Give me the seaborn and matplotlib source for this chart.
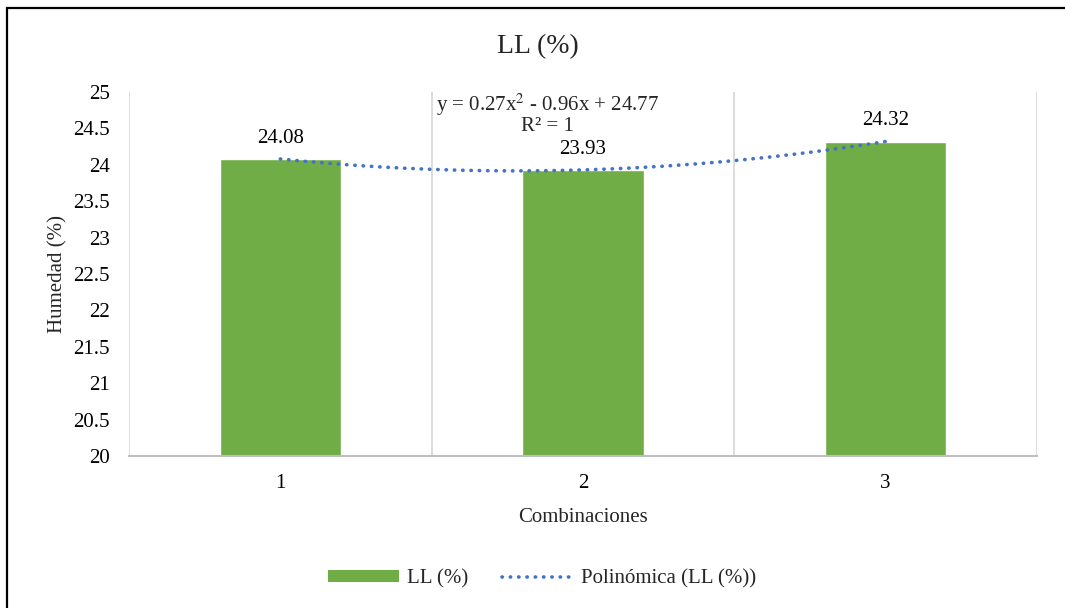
import numpy as np
import pandas as pd
import matplotlib
matplotlib.use("Agg")
import matplotlib.pyplot as plt
from matplotlib.lines import Line2D
from matplotlib.patches import Patch, Rectangle
import seaborn as sns

# ── Data ──────────────────────────────────────────────────────────────────────
combinaciones = ["1", "2", "3"]
ll_values = [24.08, 23.93, 24.32]
y_ticks = [20, 20.5, 21, 21.5, 22, 22.5, 23, 23.5, 24, 24.5, 25]

GREEN = "#70AD47"
BLUE = "#4472C4"
GRID = "#D9D9D9"

sns.set_style("white")
plt.rcParams["font.family"] = ["Liberation Serif", "DejaVu Serif"]

df = pd.DataFrame({"Combinaciones": combinaciones, "LL": ll_values})

fig = plt.figure(figsize=(10.65, 6.08), dpi=100)
ax = fig.add_axes([129 / 1065, 1 - 456 / 608, (1037 - 129) / 1065, (456 - 92) / 608])

sns.barplot(data=df, x="Combinaciones", y="LL", color=GREEN, width=0.4,
            saturation=1, ax=ax)

# polynomial trend (order 2) fitted on the data
xs = np.arange(1, len(ll_values) + 1)
coef = np.polyfit(xs, ll_values, 2)
xf = np.linspace(1, len(ll_values), 200)
ax.plot(xf - 1, np.polyval(coef, xf), color=BLUE, lw=2.6,
        linestyle=(0, (0.1, 2.2)), dash_capstyle="round", zorder=4)

for i, v in enumerate(ll_values):
    ax.annotate(f"{v:.2f}", (i, v), xytext=(0, 15), textcoords="offset points",
                ha="center", va="center", fontsize=15, color="#000000")

eq = f"y = {coef[0]:.2f}x$^2$ - {abs(coef[1]):.2f}x + {coef[2]:.2f}"
ax.text(0.884, 24.83, eq, ha="center", va="center", fontsize=15,
        math_fontfamily="stix")
ax.text(0.884, 24.52, "R² = 1", ha="center", va="center", fontsize=15)

ax.set_xlim(-0.5, 2.5)
ax.set_ylim(20, 25)
ax.set_yticks(y_ticks)
ax.set_yticklabels([f"{t:g}" for t in y_ticks])
for xv in [-0.5, 0.5, 1.5, 2.5]:
    ax.axvline(xv, color=GRID, lw=1.3, zorder=0)

for s in ["top", "right", "left"]:
    ax.spines[s].set_visible(False)
ax.spines["bottom"].set_color("#BFBFBF")
ax.spines["bottom"].set_linewidth(1.5)
ax.tick_params(axis="both", length=0, labelsize=15, colors="#000000")
ax.tick_params(axis="x", pad=13)
ax.tick_params(axis="y", pad=14)

ax.set_xlabel("Combinaciones", fontsize=15, labelpad=11)
ax.set_ylabel("Humedad (%)", fontsize=15, labelpad=4)
fig.text(538 / 1065, 1 - 47 / 608, "LL (%)", ha="center", va="center", fontsize=20)

handles = [Patch(facecolor=GREEN, edgecolor="none"),
           Line2D([0], [0], color=BLUE, lw=2.6, linestyle=(0, (0.1, 2.2)),
                  dash_capstyle="round")]
fig.legend(handles, ["LL (%)", "Polinómica (LL (%))"], loc="center",
           bbox_to_anchor=(542 / 1065, 1 - 579 / 608), ncol=2, frameon=False,
           fontsize=15, handlelength=3.4, handleheight=0.5, columnspacing=1.6,
           handletextpad=0.4)

fig.patches.append(Rectangle((7 / 1065, -0.05), 1.2, 1 - 8 / 608 + 0.05,
                             transform=fig.transFigure, fill=False,
                             edgecolor="#000000", lw=1.6))

fig.savefig("out.png", dpi=100)
